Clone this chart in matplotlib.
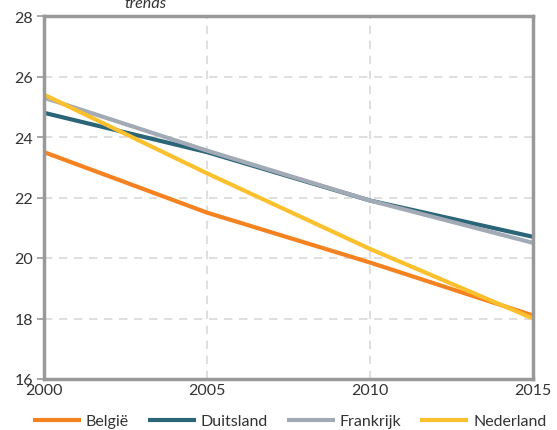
import matplotlib
matplotlib.use("Agg")
import matplotlib.pyplot as plt

years = [2000, 2005, 2010, 2015]
belgie = [23.5, 21.5, 19.85, 18.1]
duitsland = [24.8, 23.5, 21.9, 20.7]
frankrijk = [25.3, 23.55, 21.9, 20.5]
nederland = [25.4, 22.8, 20.3, 18.0]
series_names = ["België", "Duitsland", "Frankrijk", "Nederland"]
colors = ["#F58220", "#2B6578", "#A2AAB5", "#FBC02D"]
yticks = [16, 18, 20, 22, 24, 26, 28]
xticks = [2000, 2005, 2010, 2015]

plt.rcParams['font.family'] = ['Lato', 'DejaVu Sans']
fig = plt.figure(figsize=(5.57, 4.31), dpi=100)
ax = fig.add_axes([44/557, 1-380/431, (533-44)/557, (380-17)/431])

for vals, name, c in zip([belgie, duitsland, frankrijk, nederland], series_names, colors):
    ax.plot(years, vals, color=c, lw=3, label=name, solid_capstyle='butt')

ax.set_xlim(2000, 2015)
ax.set_ylim(16, 28)
ax.set_yticks(yticks)
ax.set_xticks(xticks)
ax.grid(True, color='#d9d9d9', linestyle=(0, (5, 4)), lw=1.2)
ax.set_axisbelow(True)
for s in ax.spines.values():
    s.set_color('#999999')
    s.set_linewidth(2.5)
ax.tick_params(axis='y', length=5, color='#999999', width=1.2, labelsize=11.5, labelcolor='#333333', pad=3)
ax.tick_params(axis='x', length=0, labelsize=11.5, labelcolor='#333333', pad=3)

fig.text(145/557, 1-4/431, "trends", style='italic', fontsize=11.5, color='#333333', ha='center', va='center')

leg = fig.legend(loc='center', bbox_to_anchor=(0.52, 1-422/431), ncol=4, frameon=False,
                 fontsize=11.5, handlelength=3.0, handletextpad=0.3, columnspacing=1.2,
                 labelcolor='#333333')
fig.savefig("out.png", dpi=100)
